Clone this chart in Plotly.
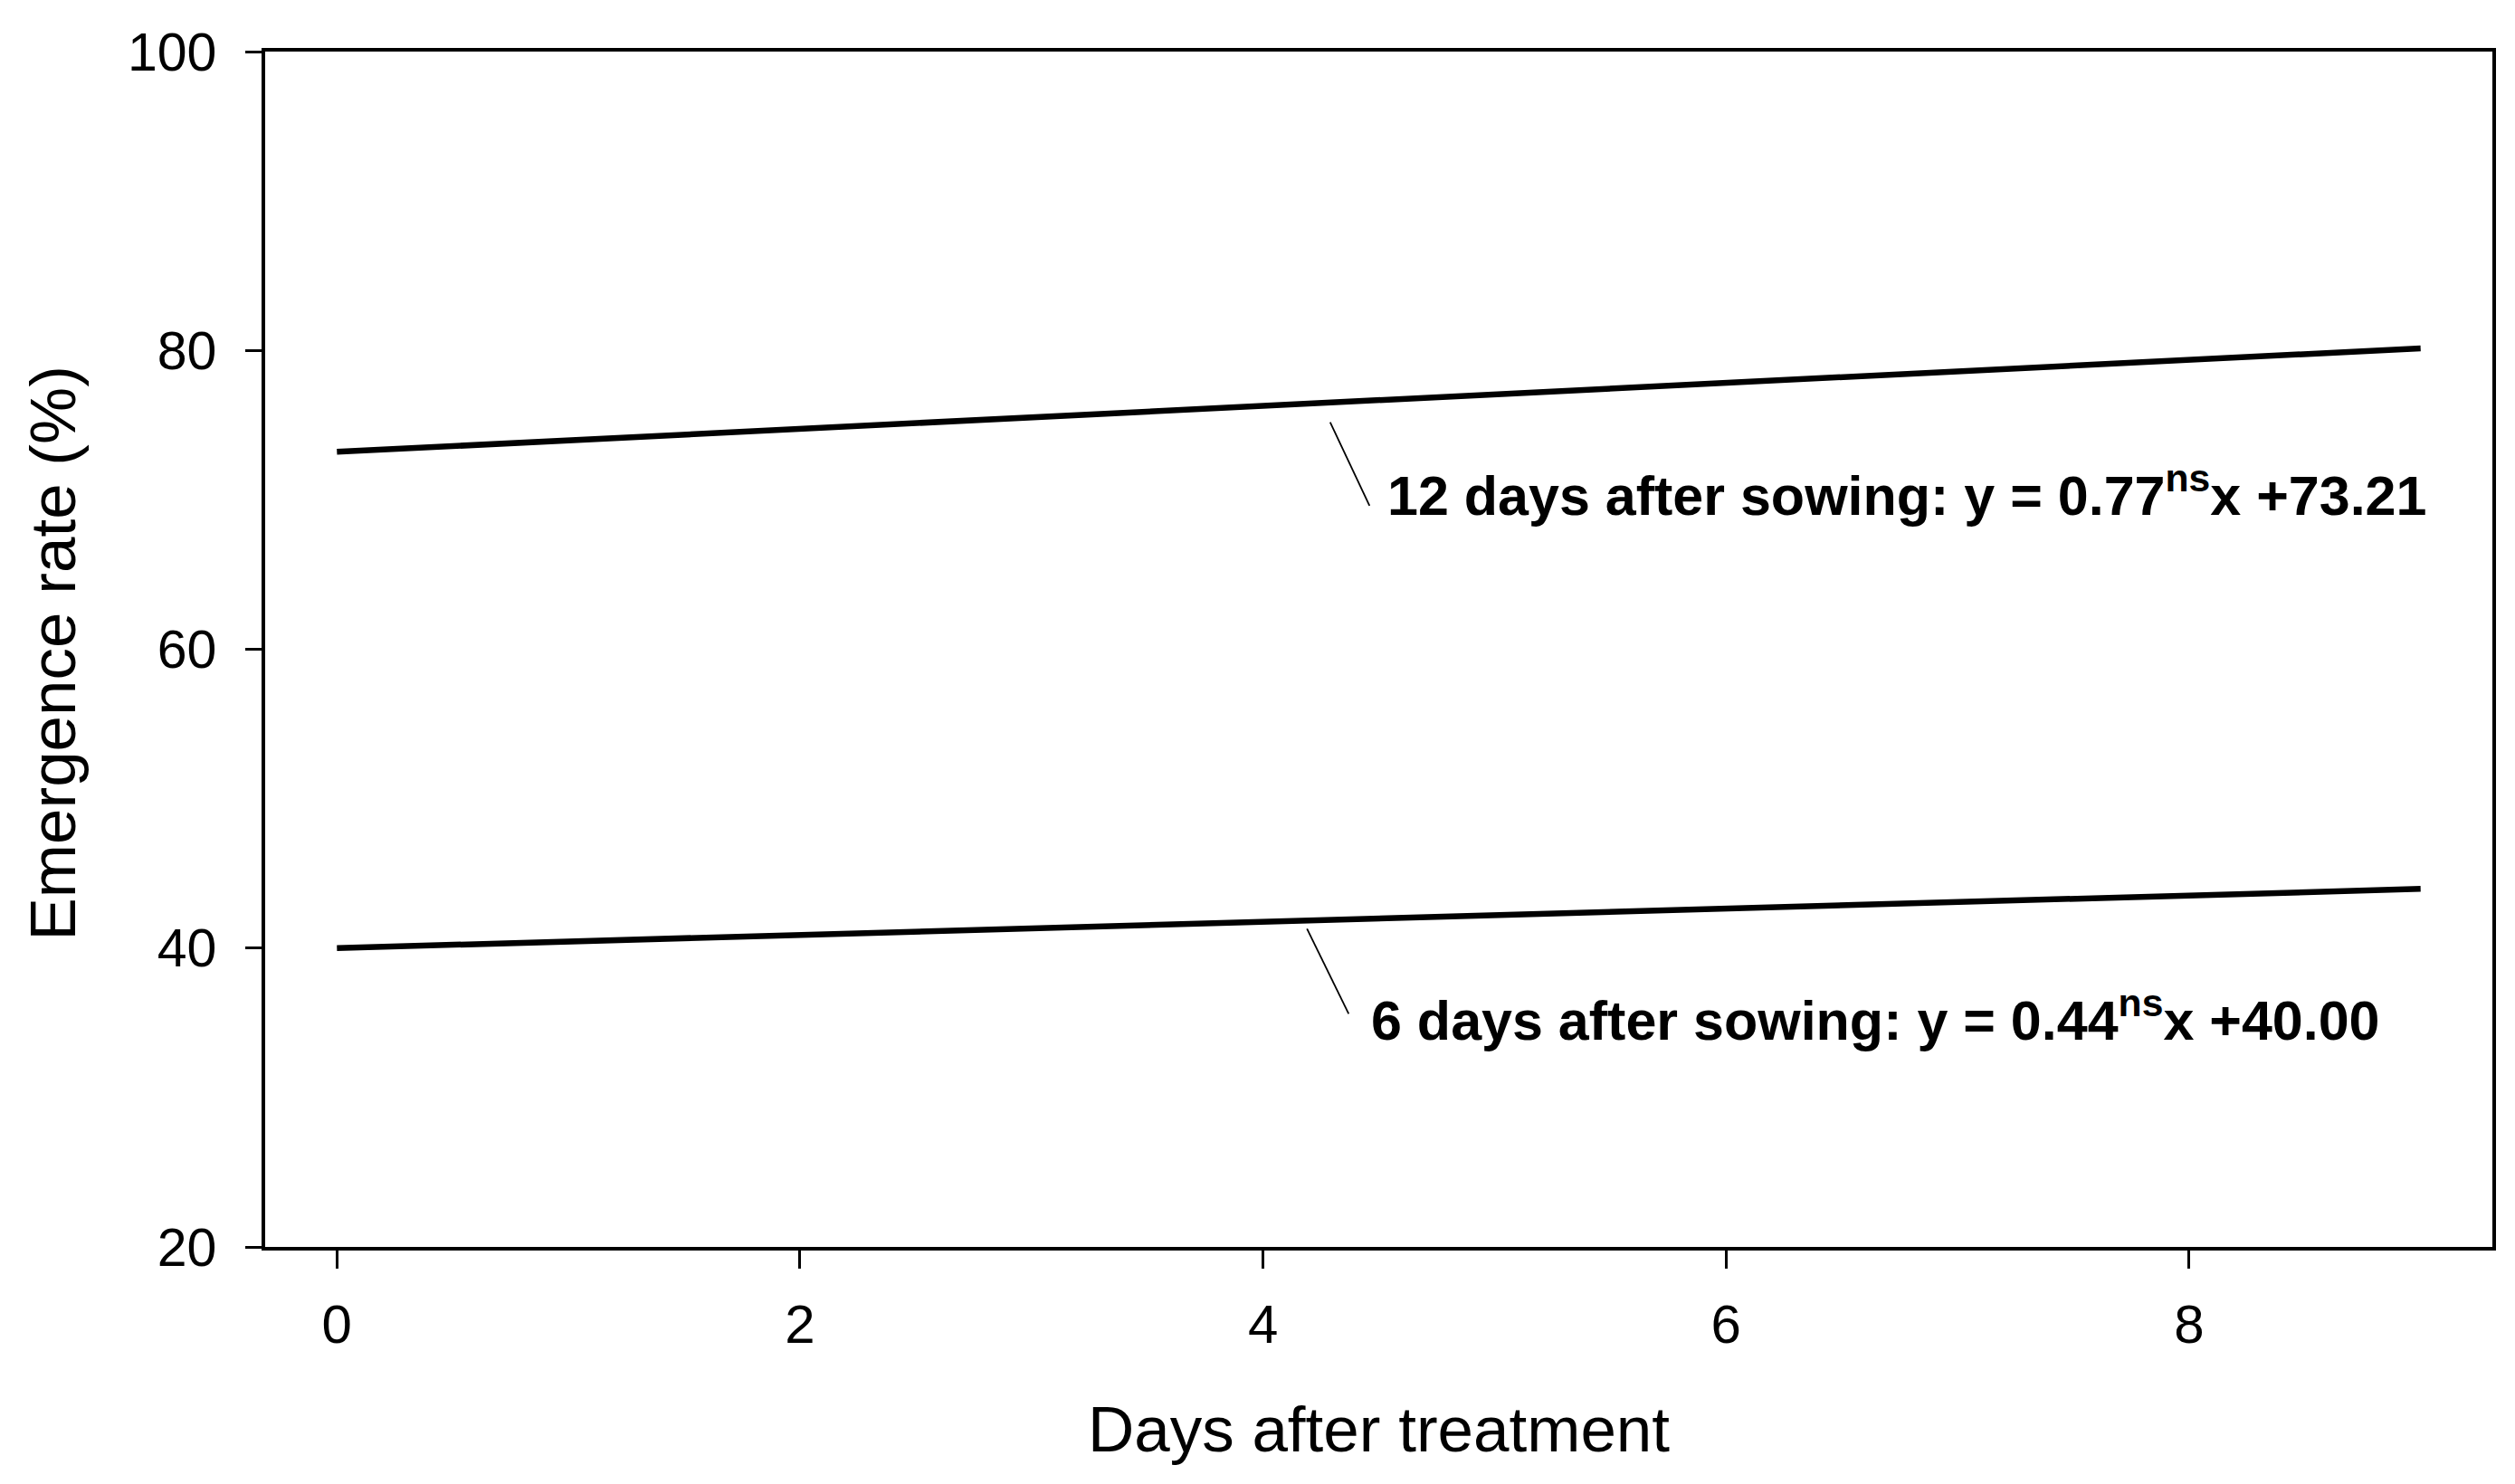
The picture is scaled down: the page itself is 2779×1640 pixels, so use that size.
import plotly.graph_objects as go

# Data (regression lines)
days = [0, 9]
slope_12 = 0.77
intercept_12 = 73.21
slope_6 = 0.44
intercept_6 = 40.00
y_12 = [intercept_12 + slope_12 * d for d in days]
y_6 = [intercept_6 + slope_6 * d for d in days]

x_ticks = [0, 2, 4, 6, 8]
y_ticks = [20, 40, 60, 80, 100]

x_title = "Days after treatment"
y_title = "Emergence rate (%)"
label_12 = "12 days after sowing: y = 0.77<sup>ns</sup>x +73.21"
label_6 = "6 days after sowing: y = 0.44<sup>ns</sup>x +40.00"

FONT = "Arial, Liberation Sans, sans-serif"

fig = go.Figure()
fig.add_trace(go.Scatter(x=days, y=y_12, mode="lines",
                         line=dict(color="black", width=6.5), showlegend=False))
fig.add_trace(go.Scatter(x=days, y=y_6, mode="lines",
                         line=dict(color="black", width=6.5), showlegend=False))

# leader lines (label positions in data coords)
leaders = [
    (4.29, 75.2, 4.46, 69.6),
    (4.19, 41.3, 4.37, 35.6),
]
for x0, y0, x1, y1 in leaders:
    fig.add_shape(type="line", xref="x", yref="y", x0=x0, y0=y0, x1=x1, y1=y1,
                  line=dict(color="black", width=1.8))

labels = [
    (4.528, 70.54, label_12),
    (4.459, 35.42, label_6),
]
for x, y, t in labels:
    fig.add_annotation(x=x, y=y, xref="x", yref="y", text="<b>" + t + "</b>",
                       showarrow=False, xanchor="left", yanchor="middle",
                       font=dict(family=FONT, size=61, color="black"))

# y-axis title as a rotated annotation
fig.add_annotation(x=0, y=0.5, xref="paper", yref="paper", text=y_title,
                   textangle=-90, showarrow=False, xanchor="center", yanchor="middle",
                   xshift=-235, yshift=-5,
                   font=dict(family=FONT, size=71, color="black"))

fig.update_layout(
    width=2779, height=1640,
    margin=dict(l=293, r=25, t=57, b=262, autoexpand=False),
    paper_bgcolor="white", plot_bgcolor="white",
    font=dict(family=FONT, color="black"),
    showlegend=False,
)
fig.update_xaxes(
    range=[-0.31, 9.31], tickvals=x_ticks, ticktext=[str(v) for v in x_ticks],
    showline=True, linecolor="black", linewidth=3.5, mirror=True,
    ticks="outside", ticklen=20, tickwidth=3, tickcolor="black",
    showgrid=False, zeroline=False,
    tickfont=dict(family=FONT, size=60, color="black"), ticklabelstandoff=10,
    title=dict(text=x_title, font=dict(family=FONT, size=71, color="black"), standoff=60),
    automargin=False,
)
fig.update_yaxes(
    range=[20, 100], tickvals=y_ticks, ticktext=[str(v) for v in y_ticks],
    showline=True, linecolor="black", linewidth=3.5, mirror=True,
    ticks="outside", ticklen=18, tickwidth=3, tickcolor="black",
    showgrid=False, zeroline=False,
    tickfont=dict(family=FONT, size=59, color="black"), ticklabelstandoff=20,
    automargin=False,
)

fig.write_html("out.html", config={"displayModeBar": False},
               post_script="document.body.style.margin='0px';")
